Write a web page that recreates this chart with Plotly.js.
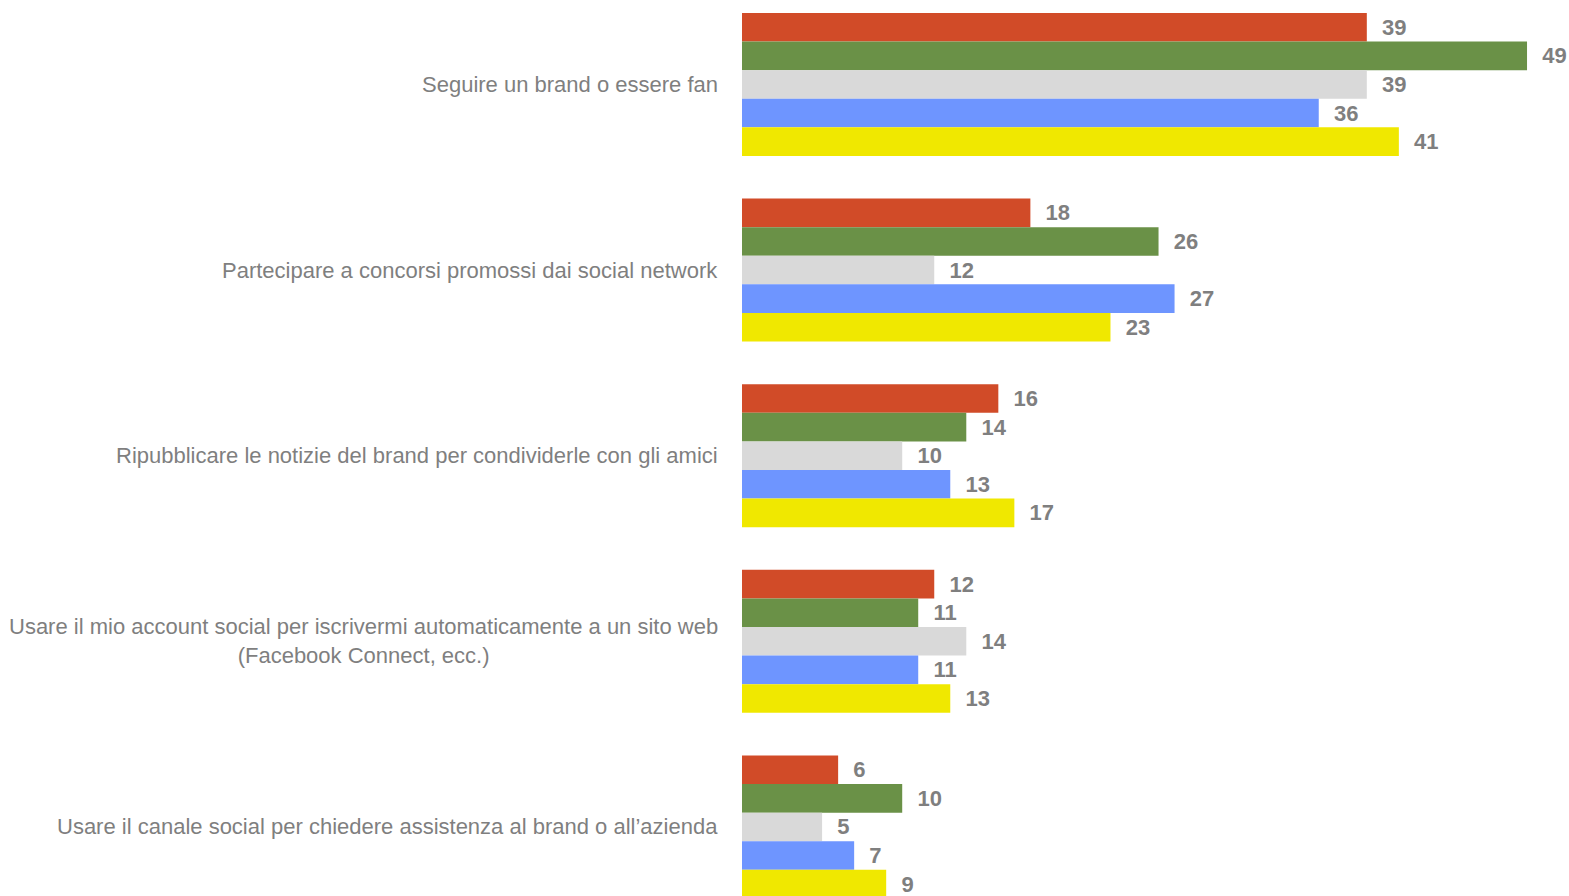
<!DOCTYPE html>
<html><head><meta charset="utf-8">
<script src="https://cdn.plot.ly/plotly-3.0.1.min.js"></script>
<style>html,body{margin:0;padding:0;background:#fff;}#chart{width:1569px;height:896px;}</style>
</head><body><div id="chart"></div>
<script>
const categories = [
  "Seguire un brand o essere fan",
  "Partecipare a concorsi promossi dai social network",
  "Ripubblicare le notizie del brand per condividerle con gli amici",
  "Usare il mio account social per iscrivermi automaticamente a un sito web<br>(Facebook Connect, ecc.)",
  "Usare il canale social per chiedere assistenza al brand o all\u2019azienda"
];
const seriesRed    = [39, 18, 16, 12, 6];
const seriesGreen  = [49, 26, 14, 11, 10];
const seriesGray   = [39, 12, 10, 14, 5];
const seriesBlue   = [36, 27, 13, 11, 7];
const seriesYellow = [41, 23, 17, 13, 9];
const seriesNames  = ["Serie 1", "Serie 2", "Serie 3", "Serie 4", "Serie 5"];
const colors = ["#D14B28", "#6A9147", "#D9D9D9", "#6E95FF", "#F0E800"];

const FONT = "'Liberation Sans Narrow', 'Arial Narrow', 'Liberation Sans', Arial, sans-serif";
const all = [seriesRed, seriesGreen, seriesGray, seriesBlue, seriesYellow];
const traces = all.map((vals, i) => ({
  type: 'bar', orientation: 'h',
  x: vals, y: categories, name: seriesNames[i],
  marker: {color: colors[i], line: {width: 0}},
  text: vals.map(String),
  texttemplate: '\u00a0\u00a0%{text}',
  textposition: 'outside',
  cliponaxis: false,
  textfont: {family: FONT, size: 22, color: '#7F7F7F', weight: 'bold'},
  hoverinfo: 'x+name'
}));

const labelAnnotations = categories.map(c => ({
  xref: 'paper', x: 0, xanchor: 'right', xshift: -22,
  yref: 'y', y: c, yanchor: 'middle',
  text: c, align: 'center', showarrow: false,
  font: {family: FONT, size: 22, color: '#7F7F7F'}
}));

const layout = {
  width: 1569, height: 896,
  margin: {l: 742, r: 0, t: 0, b: 0, pad: 0},
  paper_bgcolor: '#fff', plot_bgcolor: '#fff',
  barmode: 'group', bargap: 0.23, bargroupgap: 0,
  showlegend: false,
  xaxis: {range: [0, 51.62], showgrid: false, zeroline: false, showticklabels: false, showline: false, ticks: ''},
  yaxis: {type: 'category', range: [4.372, -0.455], showgrid: false, zeroline: false, showline: false,
          ticks: '', showticklabels: false},
  annotations: labelAnnotations,
  font: {family: FONT}
};
Plotly.newPlot('chart', traces, layout, {displayModeBar: false, staticPlot: true});
</script></body></html>
